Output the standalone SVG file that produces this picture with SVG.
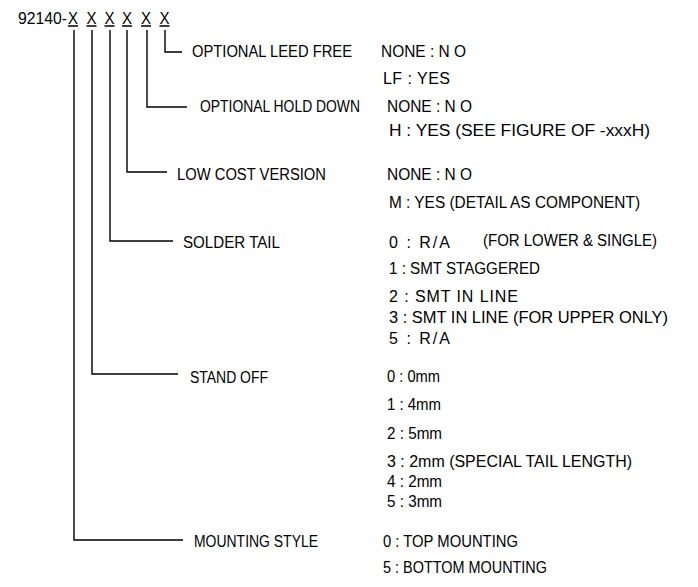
<svg xmlns="http://www.w3.org/2000/svg" width="698" height="587" viewBox="0 0 698 587">
<style>
text{font-family:"Liberation Sans","DejaVu Sans",sans-serif;font-size:16px;fill:#000}
.c{stroke:#000;stroke-width:1.4;fill:none}
</style>
<rect width="698" height="587" fill="#fff"/>
<g id="title">
<text y="24"><tspan x="18" textLength="49" lengthAdjust="spacingAndGlyphs">92140-</tspan><tspan x="68" textLength="10" lengthAdjust="spacingAndGlyphs">X</tspan><tspan x="86.5" textLength="10" lengthAdjust="spacingAndGlyphs">X</tspan><tspan x="104.5" textLength="10" lengthAdjust="spacingAndGlyphs">X</tspan><tspan x="122" textLength="10" lengthAdjust="spacingAndGlyphs">X</tspan><tspan x="141" textLength="10" lengthAdjust="spacingAndGlyphs">X</tspan><tspan x="159.5" textLength="10" lengthAdjust="spacingAndGlyphs">X</tspan></text>
<path class="c" d="M68 26h10M86.5 26h10M104.5 26h10M122 26h10M141 26h10M159.5 26h10"/>
</g>
<g id="connectors">
<path class="c" d="M165 30V52H182"/>
<path class="c" d="M147 30V107H187"/>
<path class="c" d="M127 30V172H167"/>
<path class="c" d="M110 30V241H173"/>
<path class="c" d="M92 30V374H178"/>
<path class="c" d="M74 30V540H183"/>
</g>
<g id="leed-free">
<text x="192" y="57" textLength="160" lengthAdjust="spacingAndGlyphs">OPTIONAL LEED FREE</text>
<text x="381" y="57" textLength="85" lengthAdjust="spacingAndGlyphs">NONE : N O</text>
<text x="383" y="84" textLength="67" lengthAdjust="spacing">LF : YES</text>
</g>
<g id="hold-down">
<text x="200" y="112" textLength="160" lengthAdjust="spacingAndGlyphs">OPTIONAL HOLD DOWN</text>
<text x="387" y="112" textLength="85" lengthAdjust="spacingAndGlyphs">NONE : N O</text>
<text x="389" y="136" textLength="261" lengthAdjust="spacingAndGlyphs">H : YES  (SEE FIGURE OF -xxxH)</text>
</g>
<g id="low-cost">
<text x="177" y="180" textLength="149" lengthAdjust="spacingAndGlyphs">LOW COST VERSION</text>
<text x="387" y="180" textLength="85" lengthAdjust="spacingAndGlyphs">NONE : N O</text>
<text x="389" y="208" textLength="251" lengthAdjust="spacingAndGlyphs">M : YES (DETAIL AS COMPONENT)</text>
</g>
<g id="solder-tail">
<text x="183" y="248" textLength="97" lengthAdjust="spacingAndGlyphs">SOLDER TAIL</text>
<text x="389" y="248" textLength="61" lengthAdjust="spacing">0 : R/A</text>
<text x="483" y="246" textLength="174" lengthAdjust="spacingAndGlyphs">(FOR LOWER &amp; SINGLE)</text>
<text x="389" y="274" textLength="151" lengthAdjust="spacingAndGlyphs">1 : SMT STAGGERED</text>
<text x="389" y="302" textLength="129" lengthAdjust="spacing">2 : SMT IN LINE</text>
<text x="389" y="323" textLength="279" lengthAdjust="spacingAndGlyphs">3 : SMT IN LINE (FOR UPPER ONLY)</text>
<text x="389" y="344" textLength="61" lengthAdjust="spacing">5 : R/A</text>
</g>
<g id="stand-off">
<text x="190" y="383" textLength="78" lengthAdjust="spacingAndGlyphs">STAND OFF</text>
<text x="387" y="382" textLength="53" lengthAdjust="spacingAndGlyphs">0 : 0mm</text>
<text x="387" y="410" textLength="54" lengthAdjust="spacingAndGlyphs">1 : 4mm</text>
<text x="387" y="439" textLength="55" lengthAdjust="spacingAndGlyphs">2 : 5mm</text>
<text x="387" y="467" textLength="245" lengthAdjust="spacingAndGlyphs">3 : 2mm (SPECIAL TAIL LENGTH)</text>
<text x="387" y="487" textLength="55" lengthAdjust="spacingAndGlyphs">4 : 2mm</text>
<text x="387" y="507" textLength="55" lengthAdjust="spacingAndGlyphs">5 : 3mm</text>
</g>
<g id="mounting-style">
<text x="194" y="547" textLength="124" lengthAdjust="spacingAndGlyphs">MOUNTING STYLE</text>
<text x="383" y="547" textLength="135" lengthAdjust="spacingAndGlyphs">0 : TOP MOUNTING</text>
<text x="383" y="573" textLength="164" lengthAdjust="spacingAndGlyphs">5 : BOTTOM MOUNTING</text>
</g>
</svg>
